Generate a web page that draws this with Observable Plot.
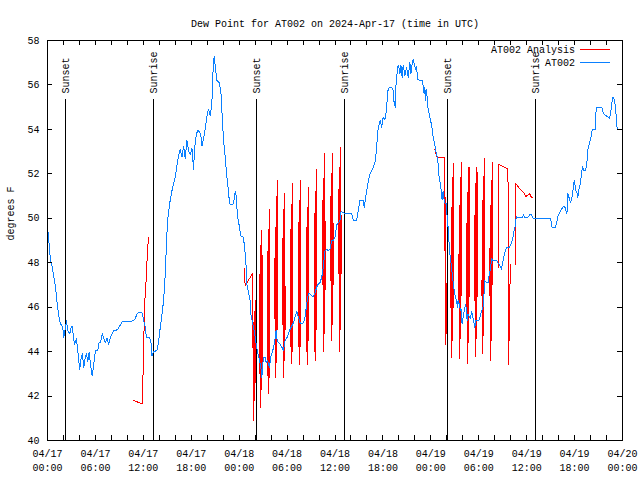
<!DOCTYPE html>
<html><head><meta charset="utf-8">
<script src="https://cdn.jsdelivr.net/npm/d3@7"></script>
<script src="https://cdn.jsdelivr.net/npm/@observablehq/plot@0.6"></script>
<style>body{margin:0;background:#fff;}#chart{width:640px;height:480px;}</style>
</head><body><div id="chart"></div>
<script>
const startUTC = Date.UTC(2024, 3, 17, 0, 0);
const endUTC = Date.UTC(2024, 3, 20, 0, 0);
const title = "Dew Point for AT002 on 2024-Apr-17 (time in UTC)";
const yLabel = "degrees F";
const seriesNames = ["AT002 Analysis", "AT002"];
const seriesColors = ["#ff0000", "#0a80ff"];
const xLabelHours = [0, 6, 12, 18, 24, 30, 36, 42, 48, 54, 60, 66, 72];
const xTickHours = [2, 4, 6, 8, 10, 12, 14, 16, 18, 20, 22, 24, 26, 28, 30, 32, 34, 36, 38, 40, 42, 44, 46, 48, 50, 52, 54, 56, 58, 60, 62, 64, 66, 68, 70];
const yTicks = [40, 42, 44, 46, 48, 50, 52, 54, 56, 58];
const sunNames = ["Sunset", "Sunrise", "Sunset", "Sunrise", "Sunset", "Sunrise"];
const sunTimes = ["2024-04-17T02:15Z", "2024-04-17T13:17Z", "2024-04-18T02:12Z", "2024-04-18T13:12Z", "2024-04-19T02:08Z", "2024-04-19T13:07Z"];

// AT002 observed dew point: [hours since 04/17 00:00 UTC, deg F]
const dewpoint = [
[0.04,49.45],[0.16,49.0],[0.375,48.1],[0.59,47.8],[0.79,47.35],[1.0,46.9],[1.21,46.15],[1.41,45.6],[1.625,45.25],[1.91,45.1],
[2.04,44.65],[2.25,45.1],[2.375,45.4],[2.54,44.95],[2.79,44.8],[2.96,45.1],[3.09,45.15],[3.21,44.8],[3.375,44.3],[3.625,44.6],
[3.79,44.05],[3.91,43.6],[4.04,43.2],[4.21,43.7],[4.375,43.9],[4.54,43.3],[4.71,43.7],[4.875,43.9],[5.04,43.55],[5.21,43.95],
[5.375,43.45],[5.59,42.9],[5.71,43.2],[5.875,43.7],[6.0,44.05],[6.29,44.05],[6.46,44.4],[6.625,44.4],[6.875,44.8],[7.04,44.6],
[7.25,44.4],[7.46,44.6],[7.66,44.3],[7.875,44.65],[8.09,44.8],[8.29,44.95],[8.5,44.95],[8.79,45.0],[9.125,45.2],[9.34,45.35],
[9.54,45.35],[10.375,45.35],[10.79,45.4],[11.0,45.5],[11.21,45.7],[11.41,45.75],[11.84,45.75],[12.04,45.4],[12.25,45.1],[12.375,44.65],
[12.54,44.65],[12.79,44.65],[13.0,44.35],[13.09,43.8],[13.29,44.0],[13.71,44.05],[13.91,44.45],[14.125,45.1],[14.34,45.7],[14.54,46.3],
[14.75,47.5],[14.875,48.7],[15.04,49.9],[15.29,50.65],[15.59,51.25],[15.79,51.55],[16.0,51.85],[16.21,52.37],[16.41,52.8],[16.625,53.1],
[16.84,52.75],[17.04,53.25],[17.25,52.7],[17.46,53.5],[17.66,53.05],[17.875,52.85],[18.09,53.15],[18.29,52.2],[18.41,53.1],[18.625,53.73],
[18.79,53.95],[19.04,53.9],[19.21,53.7],[19.34,53.25],[19.54,53.6],[19.75,54.0],[19.96,54.6],[20.16,54.9],[20.375,54.6],[20.59,55.2],
[20.66,56.2],[20.79,56.95],[20.875,57.3],[21.0,56.85],[21.21,56.2],[21.5,56.1],[21.71,55.7],[21.84,54.8],[22.04,53.5],[22.25,52.75],
[22.46,51.85],[22.66,51.25],[22.79,50.65],[23.09,50.6],[23.29,50.65],[23.5,51.2],[23.625,51.0],[23.79,50.1],[24.04,49.6],[24.21,49.2],
[24.54,49.15],[24.75,48.4],[24.875,47.8],[24.96,47.05],[25.375,46.3],[25.46,45.7],[25.79,45.1],[26.0,44.65],[26.125,44.35],[26.34,43.9],
[26.5,43.7],[26.71,43.3],[26.84,42.85],[26.91,43.2],[27.04,43.75],[27.25,43.75],[27.375,43.5],[27.54,43.6],[27.79,43.3],[27.96,43.75],
[28.21,44.05],[28.41,44.35],[28.625,44.95],[28.71,44.6],[28.91,44.4],[29.125,44.35],[29.34,44.2],[29.54,44.05],[29.75,44.5],[29.96,44.6],
[30.16,44.8],[30.375,45.0],[30.59,45.15],[30.79,45.3],[31.0,45.55],[31.21,45.8],[31.41,45.55],[31.625,45.3],[31.84,45.25],[32.04,45.3],
[32.25,45.55],[32.46,46.15],[32.66,46.6],[32.875,46.6],[33.09,46.5],[33.29,46.5],[33.5,46.65],[33.71,46.9],[33.91,47.05],[34.125,47.1],
[34.34,47.35],[34.54,47.8],[34.75,48.55],[34.96,48.6],[35.16,48.55],[35.375,48.6],[35.59,49.0],[35.79,49.0],[36.0,49.15],[36.21,49.7],
[36.41,49.8],[36.625,49.9],[36.75,50.3],[37.04,50.25],[37.25,50.2],[38.09,50.2],[38.29,49.9],[38.71,49.9],[38.91,50.35],[39.125,50.8],
[39.54,50.8],[39.66,50.5],[39.84,50.95],[40.09,51.5],[40.375,52.0],[40.59,52.15],[40.79,52.3],[41.0,52.5],[41.21,53.1],[41.34,53.9],
[41.5,54.2],[41.66,54.4],[41.84,54.1],[42.04,54.55],[42.25,54.45],[42.46,54.9],[42.59,55.7],[42.79,55.9],[43.09,55.9],[43.29,55.75],
[43.41,55.15],[43.59,55.0],[43.625,55.95],[43.71,56.35],[43.91,56.9],[44.04,56.75],[44.125,56.5],[44.25,56.9],[44.41,56.35],[44.54,56.9],
[44.75,56.4],[44.96,56.8],[45.16,56.35],[45.375,57.0],[45.5,56.5],[45.66,56.95],[45.79,57.17],[45.91,56.95],[46.09,56.7],[46.21,56.85],
[46.34,56.25],[46.625,56.2],[46.91,56.2],[47.04,55.95],[47.16,55.6],[47.25,55.9],[47.34,55.3],[47.46,55.8],[47.59,55.15],[47.66,54.9],
[47.875,54.55],[48.09,54.2],[48.29,53.65],[48.5,53.3],[48.625,53.0],[48.79,52.8],[48.91,52.45],[49.04,51.85],[49.25,51.4],[49.41,50.85],
[49.54,51.2],[49.71,50.7],[49.96,50.65],[50.04,50.05],[50.16,49.6],[50.29,48.85],[50.375,48.4],[50.46,48.2],[50.59,47.8],[50.71,47.4],
[50.875,46.9],[51.0,46.6],[51.21,46.3],[51.34,46.0],[51.41,46.3],[51.54,46.15],[51.71,45.85],[51.84,45.9],[51.91,45.25],[52.04,45.55],
[52.16,45.8],[52.34,46.1],[52.46,45.9],[52.54,45.4],[52.66,45.7],[52.79,45.6],[52.96,45.5],[53.125,45.8],[53.29,45.5],[53.41,45.3],
[53.5,45.1],[53.625,45.4],[54.0,45.4],[54.125,45.5],[54.34,45.8],[54.54,46.0],[54.66,46.6],[54.75,47.2],[54.96,47.1],[55.16,47.1],
[55.29,47.4],[55.46,47.7],[55.625,48.2],[55.79,48.1],[56.21,48.1],[56.41,48.0],[56.625,47.9],[56.84,47.7],[56.96,47.95],[57.125,48.25],
[57.375,48.6],[57.54,48.7],[57.875,48.7],[58.09,48.9],[58.29,49.15],[58.41,49.4],[58.59,49.7],[58.71,50.1],[58.84,50.05],[59.46,50.05],
[59.625,50.15],[59.75,50.05],[60.16,50.05],[60.375,50.15],[60.625,50.15],[60.79,50.0],[63.0,50.0],[63.16,49.6],[63.59,49.6],[63.75,49.8],
[63.91,50.1],[64.125,50.25],[64.34,50.4],[64.54,50.5],[64.75,50.55],[64.875,50.4],[65.04,50.2],[65.16,51.1],[65.29,50.95],[65.5,50.7],
[65.625,50.85],[65.79,51.25],[65.91,51.6],[66.0,51.7],[66.125,51.25],[66.34,51.1],[66.41,50.95],[66.54,51.3],[66.71,51.55],[66.84,51.9],
[67.0,52.35],[67.16,52.15],[67.375,52.15],[67.54,52.5],[67.66,53.1],[67.875,53.4],[68.09,53.7],[68.21,54.0],[68.59,54.0],[68.71,55.0],
[69.41,55.0],[69.625,54.7],[70.375,54.5],[70.5,54.7],[70.66,55.15],[70.79,55.45],[70.91,55.4],[71.09,55.1],[71.21,54.6],[71.34,54.0],
[71.75,54.0],[71.9,54.0]
];

// AT002 Analysis: [hours, deg F]; null marks a break in the line
const analysis = [
[10.79,41.8],[11.84,41.65],[11.9,42.25],[12.02,43.6],[12.14,46.0],[12.35,47.2],[12.52,48.55],[12.66,49.15], null,
[24.62,47.73],[24.75,46.97],[25.66,47.5],[25.7,44.2], null,
[25.72,44.2],[25.78,45.3],[25.84,40.9],[25.9,45.8],[25.96,41.8],[26.02,46.3],[26.08,42.6], null,
[26.55,43.0],[26.61,47.5],[26.67,41.5],[26.73,48.8],[26.79,42.3],[26.85,49.45],[26.91,43.0], null,
[27.5,44.5],[27.56,48.5],[27.62,42.1],[27.68,49.5],[27.74,42.8],[27.8,50.4],[27.86,44.0], null,
[28.45,45.5],[28.51,49.6],[28.57,42.85],[28.63,51.0],[28.69,43.5],[28.75,51.7],[28.81,45.0], null,
[29.4,45.2],[29.46,49.1],[29.52,42.85],[29.58,50.4],[29.64,43.6],[29.7,51.1],[29.76,45.0], null,
[30.38,45.8],[30.44,49.5],[30.5,43.45],[30.56,50.6],[30.62,44.0],[30.68,51.55],[30.74,45.5], null,
[31.38,46.0],[31.44,49.8],[31.5,43.4],[31.56,50.8],[31.62,44.2],[31.68,51.7],[31.74,45.8], null,
[32.38,46.2],[32.44,49.6],[32.5,43.4],[32.56,50.5],[32.62,44.3],[32.68,51.4],[32.74,46.0], null,
[33.38,46.5],[33.44,50.2],[33.5,43.6],[33.56,51.2],[33.62,44.5],[33.68,52.2],[33.74,46.3], null,
[34.42,47.0],[34.48,50.8],[34.54,44.0],[34.6,51.8],[34.66,44.8],[34.72,52.9],[34.78,46.8], null,
[35.42,47.2],[35.48,51.0],[35.54,44.5],[35.6,52.0],[35.66,45.2],[35.72,52.9],[35.78,47.0], null,
[36.42,47.5],[36.48,51.3],[36.54,44.0],[36.6,52.3],[36.66,45.0],[36.72,53.2],[36.78,47.5], null,
[48.5,53.08],[48.79,52.75],[49.66,52.75],[49.67,48.55],[49.8,50.95],[49.86,44.3],[49.93,47.05],[49.98,44.8], null,
[50.5,46.0],[50.56,50.5],[50.62,43.75],[50.68,51.85],[50.74,44.5],[50.8,52.45],[50.86,46.0], null,
[51.5,46.2],[51.56,50.6],[51.62,43.67],[51.68,51.85],[51.74,44.6],[51.8,52.53],[51.86,46.5], null,
[52.48,46.0],[52.54,50.4],[52.6,43.45],[52.66,51.7],[52.72,44.4],[52.78,52.3],[52.84,46.5], null,
[53.48,46.3],[53.54,50.6],[53.6,43.8],[53.66,51.85],[53.72,44.6],[53.78,52.3],[53.84,46.5], null,
[54.4,46.5],[54.46,50.8],[54.52,43.9],[54.58,51.9],[54.64,44.7],[54.7,52.68],[54.76,47.0], null,
[55.38,46.5],[55.44,50.6],[55.5,43.6],[55.56,51.7],[55.62,44.5],[55.68,52.5],[55.74,47.0], null,
[56.48,47.8],[56.52,52.42],[57.66,52.22],[57.72,43.4],[57.85,45.4],[57.95,47.9], null,
[58.55,47.9],[58.58,51.58],[58.91,51.43],[59.34,51.25],[59.66,51.13],[59.875,50.98],[60.09,51.03],[60.375,51.1],[60.59,50.95],[60.79,50.92]
];

const toDate = h => new Date(startUTC + h * 3600000);
const toRows = arr => arr.map(p => p ? {t: toDate(p[0]), v: p[1]} : {t: null, v: NaN});
const obsRows = toRows(dewpoint);
const anaRows = toRows(analysis);
const sunRows = sunNames.map((n, i) => ({name: n, t: new Date(sunTimes[i])}));
const labelDates = xLabelHours.map(toDate);
const tickDates = xTickHours.map(toDate);
const fmtD = d3.utcFormat("%m/%d"), fmtT = d3.utcFormat("%H:%M");
const FONT = "Liberation Mono, DejaVu Sans Mono, monospace";

function legend(index, scales, values, dims) {
  const g = d3.create("svg:g").attr("font-family", FONT).attr("font-size", 10);
  const right = dims.width - dims.marginRight;
  seriesNames.forEach((name, i) => {
    const y = dims.marginTop + 9.5 + i * 13;
    g.append("text").attr("x", right - 47).attr("y", y).attr("dy", "0.32em")
      .attr("text-anchor", "end").attr("fill", "black").text(name);
    g.append("line").attr("x1", right - 42).attr("x2", right - 12)
      .attr("y1", y).attr("y2", y).attr("stroke", seriesColors[i]).attr("stroke-width", 1)
      .attr("shape-rendering", "crispEdges");
  });
  return g.node();
}

const chart = Plot.plot({
  width: 640, height: 480,
  marginLeft: 47, marginRight: 18, marginTop: 40, marginBottom: 40,
  style: {fontFamily: FONT, fontSize: "10px", background: "white", color: "black"},
  x: {type: "utc", domain: [new Date(startUTC), new Date(endUTC)]},
  y: {domain: [40, 58]},
  marks: [
    Plot.ruleX(sunRows, {x: "t", insetTop: 59, stroke: "black", strokeWidth: 1, shapeRendering: "crispEdges"}),
    Plot.line(anaRows, {x: "t", y: "v", stroke: seriesColors[0], strokeWidth: 1, shapeRendering: "crispEdges"}),
    Plot.line(obsRows, {x: "t", y: "v", stroke: seriesColors[1], strokeWidth: 1, shapeRendering: "crispEdges"}),
    Plot.ruleX(tickDates, {insetTop: 395, stroke: "black", shapeRendering: "crispEdges"}),
    Plot.ruleX(tickDates, {insetBottom: 395, stroke: "black", shapeRendering: "crispEdges"}),
    Plot.ruleY(yTicks, {insetRight: 570, stroke: "black", shapeRendering: "crispEdges"}),
    Plot.ruleY(yTicks, {insetLeft: 570, stroke: "black", shapeRendering: "crispEdges"}),
    Plot.frame({stroke: "black", strokeWidth: 1, shapeRendering: "crispEdges"}),
    Plot.axisX(labelDates, {anchor: "bottom", tickSize: 0, tickPadding: 7, lineHeight: 1.4, fontSize: 10,
      tickFormat: d => fmtD(d) + "\n" + fmtT(d), label: null}),
    Plot.axisY(yTicks, {anchor: "left", tickSize: 0, tickPadding: 8, fontSize: 10, tickFormat: d => String(d), label: null}),
    Plot.text(sunRows, {x: "t", text: "name", frameAnchor: "top", dy: 53, rotate: -90, textAnchor: "start",
      lineAnchor: "middle", fontSize: 10, fill: "black"}),
    Plot.text([title], {frameAnchor: "top", dy: -21, fontSize: 10, fill: "black"}),
    Plot.text([yLabel], {frameAnchor: "left", dx: -37, rotate: -90, fontSize: 10, fill: "black"}),
    legend
  ]
});
document.getElementById("chart").appendChild(chart);
</script>
</body></html>
